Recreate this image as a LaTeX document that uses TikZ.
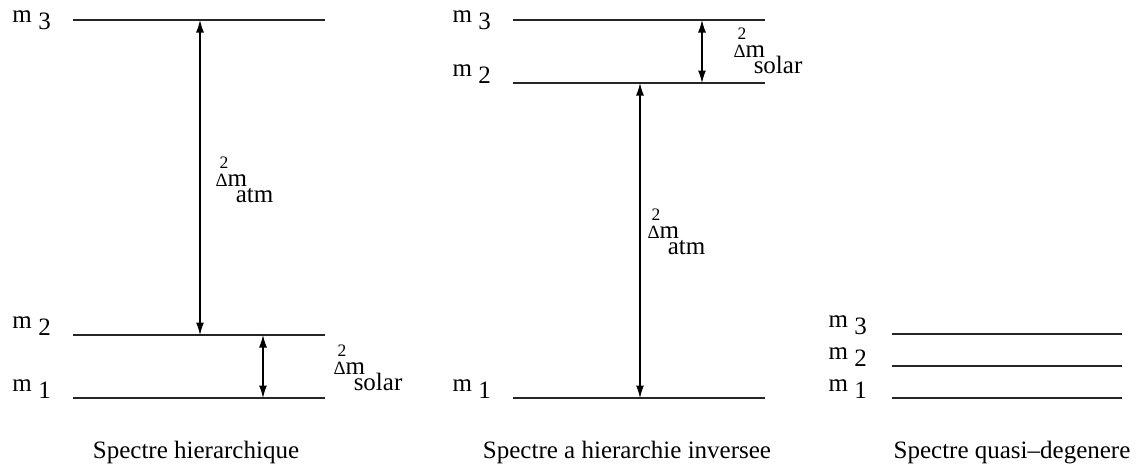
\documentclass[tikz,border=0pt]{standalone}
\usepackage{fontspec}
\setmainfont{Liberation Serif}
\usepackage{tikz}
\usetikzlibrary{arrows.meta}

% mass label m_i and splitting label Delta m^2_x
\newcommand{\mlab}[1]{m\hspace{2.6pt}\raisebox{-2.8pt}{#1}}
\newcommand{\dmsq}[1]{\makebox[0pt][l]{\hspace{1.6pt}\raisebox{7pt}{\fontsize{7}{8}\selectfont 2}}{\fontsize{7.5}{9}\selectfont Δ}m\hspace{-4.5pt}\raisebox{-6.4pt}{#1}}

\begin{document}
\begin{tikzpicture}[x=0.4pt,y=-0.4pt,font=\rmfamily\fontsize{10}{12}\selectfont,
  level/.style={line width=0.5pt, black!85},
  split/.style={line width=0.5pt, {Latex[length=5pt,width=3.2pt]}-{Latex[length=5pt,width=3.2pt]}},
  mass/.style={anchor=base west, inner sep=0pt},
  dlab/.style={anchor=base west, inner sep=0pt},
  title/.style={anchor=base, inner sep=0pt}]
\useasboundingbox (0,0) rectangle (1136,469);
% ---- hierarchique ----
\draw[level] (73,20) coordinate (n3l) -- (325,20) coordinate (n3r);
\draw[level] (73,335) coordinate (n2l) -- (325,335) coordinate (n2r);
\draw[level] (73,398) coordinate (n1l) -- (325,398) coordinate (n1r);
\node[mass] (nm3) at (12,22) {\mlab{3}};
\node[mass] (nm2) at (12,328) {\mlab{2}};
\node[mass] (nm1) at (12,391) {\mlab{1}};
\coordinate (na3) at (200,20);
\coordinate (na2) at (200,335);
\draw[split] (na3) -- (na2);
\coordinate (ns2) at (263,335);
\coordinate (ns1) at (263,398);
\draw[split] (ns2) -- (ns1);
\node[dlab] (natm) at (215,186) {\dmsq{atm}};
\node[dlab] (nsol) at (333,374) {\dmsq{solar}};
\node[title] (tn) at (196,458) {Spectre hierarchique};
% ---- inverse ----
\draw[level] (513,20) coordinate (i3l) -- (765,20) coordinate (i3r);
\draw[level] (513,83) coordinate (i2l) -- (765,83) coordinate (i2r);
\draw[level] (513,398) coordinate (i1l) -- (765,398) coordinate (i1r);
\node[mass] (im3) at (452,22) {\mlab{3}};
\node[mass] (im2) at (452,76) {\mlab{2}};
\node[mass] (im1) at (452,391) {\mlab{1}};
\coordinate (is3) at (702,20);
\coordinate (is2) at (702,83);
\draw[split] (is3) -- (is2);
\coordinate (ia2) at (640,83);
\coordinate (ia1) at (640,398);
\draw[split] (ia2) -- (ia1);
\node[dlab] (isol) at (733,57) {\dmsq{solar}};
\node[dlab] (iatm) at (647,238) {\dmsq{atm}};
\node[title] (ti) at (627,458) {Spectre a hierarchie inversee};
% ---- quasi-degenere ----
\draw[level] (892,334) coordinate (q3l) -- (1122,334) coordinate (q3r);
\draw[level] (892,366) coordinate (q2l) -- (1122,366) coordinate (q2r);
\draw[level] (892,398) coordinate (q1l) -- (1122,398) coordinate (q1r);
\node[mass] (qm3) at (828,327) {\mlab{3}};
\node[mass] (qm2) at (828,359) {\mlab{2}};
\node[mass] (qm1) at (828,391) {\mlab{1}};
\node[title] (tq) at (1012,458) {Spectre quasi--degenere};
\end{tikzpicture}
\end{document}
